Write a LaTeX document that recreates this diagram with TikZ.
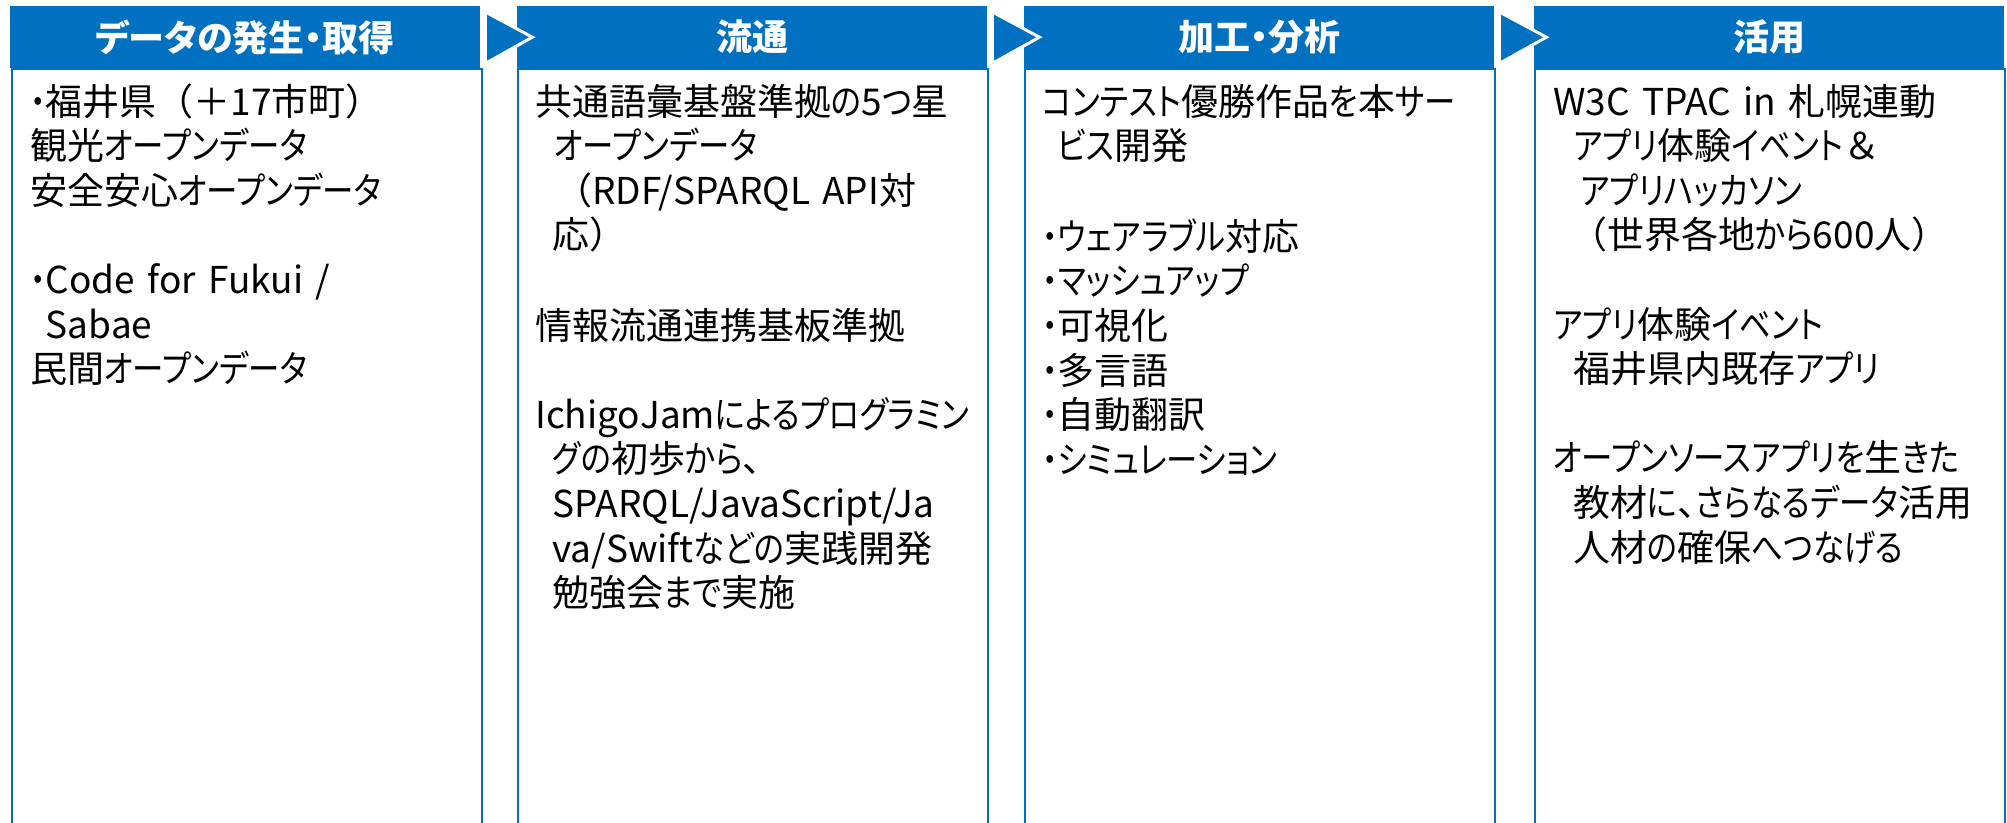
\documentclass[tikz,border=0pt]{standalone}
\usepackage{fontspec}
\usepackage{graphicx}
\usetikzlibrary{calc}
\newfontfamily\jp{Noto Sans CJK JP}[RawFeature={+palt}]
\newfontfamily\jpfull{Noto Sans CJK JP}
\definecolor{mainblue}{HTML}{0070C0}
\newcommand\fw[1]{{\jpfull #1}}
\newcommand\kn[1]{\scalebox{0.85}[1]{#1}}
\newcommand\hdrfont{\jp\bfseries\fontsize{36}{40}\selectfont}
\newcommand\bodyfont{\jp\fontsize{37}{44.6}\selectfont}
\begin{document}
\begin{tikzpicture}[x=1pt,y=-1pt,
  header/.style={fill=mainblue, draw=none, minimum width=470pt, minimum height=62pt,
    inner sep=0pt, anchor=north west, text=white, font={\hdrfont}},
  panel/.style={draw=mainblue, line width=2pt, fill=white, minimum width=470pt,
    minimum height=800pt, anchor=north west, inner sep=0pt},
  body/.style={anchor=base west, inner sep=0pt, text width=465pt, align=left,
    font={\bodyfont}},
  chev/.style={fill=mainblue, draw=white, line width=3pt, line join=miter}]
\useasboundingbox (0,0) rectangle (2007,822);
\clip (0,0) rectangle (2007,822);
% panels
\node[panel] (p1) at (11,68) {};
\node[panel] (p2) at (517,68) {};
\node[panel] (p3) at (1024,68) {};
\node[panel] (p4) at (1534,68) {};
% headers
\node[header] (h1) at (10,6) {データの発生・取得};
\node[header] (h2) at (517,6) {流通};
\node[header] (h3) at (1024,6) {加工・分析};
\node[header] (h4) at (1534,6) {活用};
% chevrons
\foreach \a in {h1,h2,h3}{
  \draw[chev] ($(\a.north east)+(5,6)$) -- ($(\a.east)+(52,0)$) -- ($(\a.south east)+(5,-5)$) -- cycle;
}
% texts
\node[body] (t1) at (30,115) {\kn{・}福井県\fw{（＋}17市町\fw{）}\\
観光\kn{オープンデータ}\\
安全安心\kn{オープンデータ}\\
\strut\\
\kn{・}Code for Fukui /\\
\phantom{\kn{・}}Sabae\\
民間\kn{オープンデータ}};
\node[body] (t2) at (535,115) {共通語彙基盤準拠\kn{の}5\kn{つ}星\\
\hspace*{19pt}\kn{オープンデータ}\\
\hspace*{20pt}\fw{（}RDF/SPARQL API対\\
\hspace*{17pt}応\fw{）}\\
\strut\\
情報流通連携基板準拠\\
\strut\\
IchigoJam\kn{によるプログラミン}\\
\hspace*{17pt}\kn{グの}初歩\kn{から}、\\
\hspace*{17pt}SPARQL/JavaScript/Ja\\
\hspace*{17pt}va/Swift\kn{などの}実践開発\\
\hspace*{17pt}勉強会\kn{まで}実施};
\node[body] (t3) at (1042,115) {\kn{コンテスト}優勝作品\kn{を}本\kn{サー}\\
\hspace*{15pt}\kn{ビス}開発\\
\strut\\
\kn{・ウェアラブル}対応\\
\kn{・マッシュアップ}\\
\kn{・}可視化\\
\kn{・}多言語\\
\kn{・}自動翻訳\\
\kn{・シミュレーション}};
\node[body] (t4) at (1553,115) {W3C TPAC in 札幌連動\\
\hspace*{20pt}\kn{アプリ}体験\kn{イベント}\fw{＆}\\
\hspace*{27pt}\kn{アプリハッカソン}\\
\hspace*{17pt}\fw{（}世界各地\kn{から}600人\fw{）}\\
\strut\\
\kn{アプリ}体験\kn{イベント}\\
\hspace*{20pt}福井県内既存\kn{アプリ}\\
\strut\\
\kn{オープンソースアプリを}生\kn{きた}\\
\hspace*{20pt}教材\kn{に}、\kn{さらなるデータ}活用\\
\hspace*{20pt}人材\kn{の}確保\kn{へつなげる}};
\end{tikzpicture}
\end{document}
